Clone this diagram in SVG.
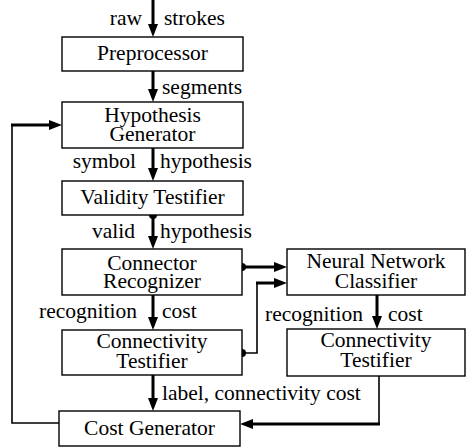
<svg xmlns="http://www.w3.org/2000/svg" width="466" height="448" viewBox="0 0 466 448">
<style>
.box{fill:#fff;stroke:#000;stroke-width:1.4}
text{font-family:"Liberation Serif","Times New Roman","DejaVu Serif",serif;font-size:21.5px;fill:#000}
.c{text-anchor:middle}
.e{text-anchor:end}
.w{fill:none;stroke:#000;stroke-width:3}
.t{fill:none;stroke:#000;stroke-width:1.6}
</style>
<defs>
<marker id="ah" markerUnits="userSpaceOnUse" markerWidth="13" markerHeight="11" refX="5" refY="5.5" orient="auto">
<path d="M0,0.5 L13,5.5 L0,10.5 z" fill="#000"/>
</marker>
</defs>
<g id="connectors">
<path class="w" d="M153,0 V29" marker-end="url(#ah)"/>
<path class="w" d="M153,71 V94" marker-end="url(#ah)"/>
<path class="w" d="M153,148 V173" marker-end="url(#ah)"/>
<path class="w" d="M153,215 V241" marker-end="url(#ah)"/>
<circle cx="153" cy="215" r="4"/>
<path class="w" d="M153,295 V322" marker-end="url(#ah)"/>
<path class="w" d="M153,375 V403" marker-end="url(#ah)"/>
<path class="w" d="M242,267 H279" marker-end="url(#ah)"/>
<circle cx="242" cy="267" r="4"/>
<path class="t" d="M242,353 H257 V283"/>
<path class="w" d="M256,283 H279" marker-end="url(#ah)"/>
<circle cx="242" cy="353" r="4"/>
<path class="w" d="M377,295 V321" marker-end="url(#ah)"/>
<path class="t" d="M379,376 V424"/>
<path class="w" d="M380,424 H248" marker-end="url(#ah)"/>
<path class="t" d="M59,423 H12 V125"/>
<path class="w" d="M11,125 H54" marker-end="url(#ah)"/>
</g>
<g id="labels">
<text class="e" x="142" y="25">raw</text>
<text x="164" y="25">strokes</text>
<text x="162" y="94">segments</text>
<text class="e" x="136" y="168">symbol</text>
<text x="160" y="168">hypothesis</text>
<text class="e" x="135" y="238">valid</text>
<text x="160" y="238">hypothesis</text>
<text class="e" x="137" y="318">recognition</text>
<text x="162" y="318">cost</text>
<text class="e" x="363" y="321">recognition</text>
<text x="388" y="321">cost</text>
<text x="162" y="400">label, connectivity cost</text>
</g>
<g id="preprocessor">
<rect class="box" x="62" y="37" width="181" height="34"/>
<text class="c" x="152.5" y="60">Preprocessor</text>
</g>
<g id="hypothesis-generator">
<rect class="box" x="62" y="102" width="181" height="46"/>
<text class="c" x="152.5" y="122">Hypothesis</text>
<text class="c" x="152.5" y="141">Generator</text>
</g>
<g id="validity-testifier">
<rect class="box" x="62" y="181" width="181" height="34"/>
<text class="c" x="152.5" y="204">Validity Testifier</text>
</g>
<g id="connector-recognizer">
<rect class="box" x="62" y="249" width="180" height="46"/>
<text class="c" x="152" y="270">Connector</text>
<text class="c" x="152" y="288">Recognizer</text>
</g>
<g id="connectivity-testifier-1">
<rect class="box" x="62" y="330" width="180" height="45"/>
<text class="c" x="152" y="348">Connectivity</text>
<text class="c" x="152" y="368">Testifier</text>
</g>
<g id="cost-generator">
<rect class="box" x="59" y="411" width="181" height="35"/>
<text class="c" x="149.5" y="435">Cost Generator</text>
</g>
<g id="neural-network-classifier">
<rect class="box" x="287" y="249" width="178" height="46"/>
<text class="c" x="376" y="268">Neural Network</text>
<text class="c" x="376" y="288">Classifier</text>
</g>
<g id="connectivity-testifier-2">
<rect class="box" x="287" y="329" width="178" height="47"/>
<text class="c" x="376" y="347">Connectivity</text>
<text class="c" x="376" y="367">Testifier</text>
</g>
</svg>
